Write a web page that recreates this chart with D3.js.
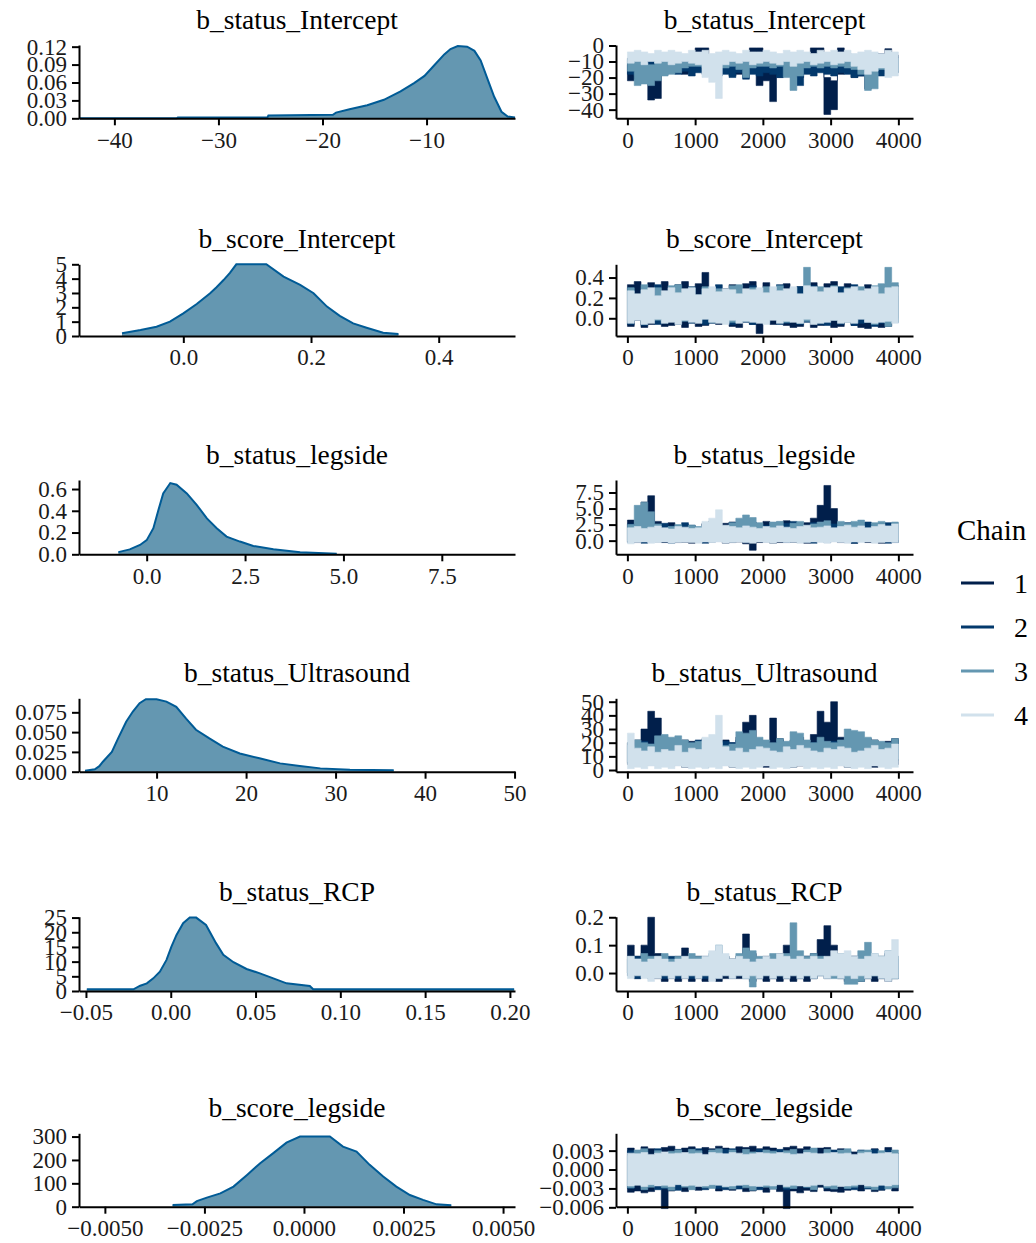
<!DOCTYPE html>
<html>
<head>
<meta charset="utf-8">
<script src="https://cdn.jsdelivr.net/npm/d3@7"></script>
<style>
  html, body { margin: 0; padding: 0; background: #ffffff; }
  svg text { font-family: "Liberation Serif", "Times New Roman", serif; }
</style>
</head>
<body>
<svg id="chart" width="1036" height="1243"></svg>
<script>
// ---------------- posterior densities ----------------
const statusInterceptDensX = [-43.4, -34.0, -33.9, -25.3, -25.2, -19.0, -18.7, -17.4, -15.7, -14.1, -12.5, -11.2, -10.2, -9.3, -8.3, -7.7, -7.0, -6.1, -5.4, -4.8, -4.1, -3.5, -2.8, -2.2, -1.5];
const statusInterceptDensY = [0, 0, 0.0015, 0.0015, 0.0045, 0.0060, 0.0095, 0.015, 0.022, 0.031, 0.045, 0.059, 0.071, 0.088, 0.107, 0.116, 0.121, 0.120, 0.113, 0.097, 0.064, 0.036, 0.011, 0.003, 0.0015];

const scoreInterceptDensX = [-0.096, -0.067, -0.042, -0.021, 0.0, 0.021, 0.042, 0.052, 0.063, 0.073, 0.083, 0.13, 0.157, 0.183, 0.204, 0.225, 0.245, 0.266, 0.287, 0.313, 0.337];
const scoreInterceptDensY = [0.19, 0.42, 0.65, 1.0, 1.58, 2.23, 2.98, 3.4, 3.9, 4.4, 5.0, 5.0, 4.14, 3.56, 2.98, 2.05, 1.4, 0.88, 0.58, 0.23, 0.14];

const statusLegsideDensX = [-0.72, -0.43, -0.17, 0.0, 0.17, 0.3, 0.42, 0.6, 0.76, 1.02, 1.27, 1.53, 1.78, 2.03, 2.37, 2.71, 3.22, 3.9, 4.83];
const statusLegsideDensY = [0.02, 0.045, 0.086, 0.13, 0.24, 0.41, 0.56, 0.655, 0.64, 0.56, 0.455, 0.33, 0.24, 0.163, 0.117, 0.077, 0.046, 0.018, 0.006];

const statusUltrasoundDensX = [2.0, 3.1, 3.6, 4.0, 5.0, 5.7, 6.6, 7.35, 8.1, 8.8, 10.0, 11.1, 12.2, 13.3, 14.4, 15.9, 17.4, 19.3, 21.5, 23.8, 26.0, 28.3, 31.6, 36.5];
const statusUltrasoundDensY = [0.0013, 0.003, 0.007, 0.0126, 0.025, 0.042, 0.063, 0.076, 0.0865, 0.0915, 0.0915, 0.0885, 0.082, 0.067, 0.053, 0.042, 0.0316, 0.023, 0.0169, 0.0105, 0.0072, 0.0042, 0.0025, 0.0017];

const statusRCPDensX = [-0.0495, -0.022, -0.018, -0.0141, -0.0103, -0.0064, -0.0025, 0.0004, 0.0034, 0.0073, 0.0112, 0.015, 0.0208, 0.0267, 0.031, 0.037, 0.0447, 0.0526, 0.0605, 0.0683, 0.082, 0.084, 0.2025];
const statusRCPDensY = [0.57, 0.57, 1.8, 2.6, 4.3, 6.6, 10.6, 15.1, 19.1, 23.1, 25.0, 25.0, 22.5, 16.3, 12.3, 9.8, 7.5, 6.0, 4.3, 2.6, 1.7, 0.57, 0.57];

const scoreLegsideDensX = [-0.0033, -0.0028, -0.00269, -0.00244, -0.0021, -0.00177, -0.00143, -0.0011, -0.00077, -0.00044, -0.0001, 0.00065, 0.00098, 0.00132, 0.00165, 0.00199, 0.00232, 0.00266, 0.00299, 0.00333, 0.0037];
const scoreLegsideDensY = [7, 10, 24, 39, 57, 86, 136, 186, 229, 274, 300, 300, 257, 236, 179, 129, 86, 50, 29, 10, 6];

// ---------------- MCMC traces: lowest / highest draw of each chain per 100 iterations ----------------
const statusInterceptChain1Lo = [-22,-21,-20,-34,-33,-18,-17,-16,-18,-17, -15,-14,-19,-18,-17,-19,-18,-20,-15,-25, -22,-35,-20,-19,-18,-20,-17,-15,-16,-43, -40,-18,-16,-20,-19,-27,-16,-15,-17,-16];
const statusInterceptChain1Hi = [-12,-11,-10,-18,-17,-9,-10,-9,-10,-11, -1.5,-1.5,-10,-11,-10,-9,-11,-10,-1.5,-1.5, -8,-12,-9,-10,-8,-9,-10,-1.5,-1.5,-20, -22,-1.5,-5,-8,-9,-8,-6,-5,-2,-6];
const statusInterceptChain2Lo = [-18,-19,-17,-20,-19,-18,-17,-18,-16,-19, -17,-18,-16,-19,-18,-20,-17,-21,-18,-19, -17,-18,-20,-19,-17,-25,-18,-19,-17,-18, -19,-17,-18,-20,-19,-18,-17,-19,-18,-17];
const statusInterceptChain2Hi = [-8,-7,-9,-8,-10,-7,-8,-9,-7,-8, -9,-7,-8,-10,-8,-7,-9,-8,-7,-9, -8,-10,-7,-8,-9,-8,-7,-9,-8,-10, -7,-8,-9,-7,-8,-9,-7,-8,-10,-7];
const statusInterceptChain3Lo = [-16,-25,-24,-25,-22,-19,-18,-17,-14,-13, -13,-14,-12,-13,-14,-13,-15,-20,-14,-13, -13,-14,-13,-20,-28,-19,-14,-13,-14,-13, -14,-13,-14,-15,-18,-28,-27,-15,-14,-16];
const statusInterceptChain3Hi = [-9,-10,-11,-12,-10,-9,-8,-9,-10,-8, -9,-10,-8,-9,-10,-8,-9,-10,-9,-8, -10,-9,-8,-9,-10,-9,-8,-10,-9,-8, -9,-10,-8,-9,-10,-9,-8,-9,-10,-8];
const statusInterceptChain4Lo = [-11,-10,-12,-10,-11,-10,-12,-11,-10,-11, -12,-20,-23,-33,-12,-10,-11,-10,-12,-11, -10,-11,-12,-10,-13,-11,-10,-12,-11,-10, -12,-11,-10,-13,-15,-18,-16,-14,-20,-19];
const statusInterceptChain4Hi = [-4,-3,-4,-5,-3,-4,-3,-4,-5,-3, -4,-3,-5,-4,-3,-4,-5,-3,-4,-4, -3,-4,-5,-3,-4,-3,-4,-5,-3,-4, -3,-4,-3,-5,-4,-3,-4,-5,-3,-4];

const scoreInterceptChain1Lo = [-0.08,-0.02,-0.09,-0.06,-0.01,-0.08,-0.07,0.0,-0.09,-0.02, -0.08,-0.07,0.0,-0.06,-0.01,-0.08,-0.09,0.0,-0.06,-0.15, -0.01,-0.06,-0.02,-0.07,-0.09,-0.08,0.0,-0.09,-0.07,-0.02, -0.09,-0.08,0.0,-0.07,-0.09,-0.1,-0.02,-0.09,-0.08,0.0];
const scoreInterceptChain1Hi = [0.33,0.36,0.26,0.35,0.27,0.36,0.25,0.33,0.36,0.27, 0.34,0.45,0.26,0.25,0.29,0.33,0.25,0.34,0.36,0.26, 0.35,0.25,0.27,0.34,0.26,0.31,0.25,0.35,0.26,0.34, 0.36,0.26,0.34,0.25,0.3,0.33,0.26,0.31,0.25,0.32];
const scoreInterceptChain2Lo = [-0.06,0.0,-0.07,0.01,-0.06,-0.05,0.02,-0.06,0.0,-0.05, 0.01,-0.06,-0.05,0.0,-0.04,-0.06,0.01,-0.04,-0.06,0.0, -0.05,0.02,-0.06,-0.05,0.0,-0.06,-0.04,0.01,-0.06,-0.07, 0.0,-0.06,0.02,-0.07,-0.05,0.0,-0.08,-0.05,0.01,-0.04];
const scoreInterceptChain2Hi = [0.3,0.22,0.31,0.2,0.33,0.21,0.24,0.32,0.2,0.31, 0.22,0.3,0.21,0.33,0.23,0.2,0.31,0.22,0.32,0.21, 0.3,0.2,0.33,0.22,0.24,0.31,0.2,0.32,0.21,0.3, 0.22,0.31,0.2,0.33,0.21,0.23,0.3,0.2,0.32,0.22];
const scoreInterceptChain3Lo = [-0.03,0.02,-0.04,0.03,-0.02,-0.04,0.02,-0.02,-0.03,0.03, -0.02,0.02,-0.04,0.03,-0.03,-0.04,0.02,-0.03,0.03,-0.03, -0.04,0.02,-0.02,-0.04,0.03,-0.05,-0.03,0.02,-0.04,0.03, -0.02,0.02,-0.04,-0.03,0.03,-0.04,-0.06,0.02,-0.08,-0.04];
const scoreInterceptChain3Hi = [0.3,0.22,0.33,0.21,0.3,0.24,0.32,0.33,0.2,0.3, 0.23,0.31,0.2,0.29,0.22,0.32,0.33,0.21,0.3,0.22, 0.31,0.2,0.32,0.23,0.3,0.21,0.5,0.22,0.31,0.2, 0.32,0.21,0.3,0.24,0.31,0.2,0.32,0.34,0.5,0.35];
const scoreInterceptChain4Lo = [-0.05,-0.02,-0.06,-0.05,-0.01,-0.05,-0.04,-0.06,-0.02,-0.04, -0.05,-0.01,-0.04,-0.05,-0.06,-0.02,-0.05,-0.03,-0.04,-0.05, -0.06,-0.02,-0.05,-0.03,-0.04,-0.05,-0.01,-0.06,-0.05,-0.04, -0.02,-0.05,-0.04,-0.05,-0.01,-0.04,-0.05,-0.04,-0.03,-0.05];
const scoreInterceptChain4Hi = [0.27,0.24,0.28,0.3,0.22,0.27,0.3,0.25,0.29,0.3, 0.23,0.29,0.31,0.26,0.29,0.28,0.24,0.29,0.28,0.3, 0.25,0.31,0.27,0.29,0.31,0.24,0.32,0.31,0.26,0.3, 0.31,0.25,0.29,0.31,0.27,0.29,0.31,0.24,0.3,0.31];

const statusLegsideChain1Lo = [-0.2,-0.3,0.5,1.5,-0.2,-0.3,-0.1,-0.3,-0.2,-0.4, -0.1,-0.3,-0.2,-0.1,-0.4,-0.3,-0.2,-0.5,-1.5,-0.3, -0.2,-0.4,-0.3,-0.1,-0.2,-0.3,-0.4,-0.2,1.0,1.5, 1.0,-0.3,-0.2,-0.4,-0.1,-0.3,-0.2,-0.4,-0.3,-0.2];
const statusLegsideChain1Hi = [3.2,2.6,6.0,7.0,3.0,2.4,2.8,2.2,2.5,2.3, 2.0,2.6,3.0,2.4,2.7,2.9,2.3,3.2,2.8,2.6, 3.0,2.4,2.9,3.1,2.6,2.4,2.8,3.5,5.5,8.6, 5.0,2.6,2.4,2.2,2.8,2.3,2.5,2.4,2.2,2.6];
const statusLegsideChain2Lo = [-0.3,0.2,-0.4,-0.1,0.3,-0.2,-0.4,0.2,-0.2,-0.1, 0.3,-0.4,-0.2,0.2,-0.1,-0.2,0.3,-0.3,-0.2,0.2, -0.1,-0.2,0.3,-0.3,-0.2,0.2,-0.3,-0.4,0.3,-0.3, -0.1,0.2,-0.3,-0.4,0.3,-0.1,-0.3,0.2,-0.4,-0.3];
const statusLegsideChain2Hi = [2.6,1.6,2.4,2.9,1.7,2.7,2.3,1.6,2.8,2.4, 1.7,2.7,2.9,1.6,2.4,2.8,1.7,2.7,2.9,1.6, 2.4,2.8,1.7,2.7,3.0,1.6,2.4,2.8,1.7,2.7, 2.6,1.6,2.8,2.5,1.7,2.9,2.6,1.6,2.8,2.5];
const statusLegsideChain3Lo = [0.0,1.0,1.2,0.8,0.2,0.0,0.1,-0.1,0.2,0.0, 0.1,-0.1,0.3,0.0,0.2,0.1,0.3,0.4,0.2,0.0, 0.1,0.2,0.0,0.1,0.3,0.2,0.0,0.1,0.2,0.0, 0.1,0.2,0.3,0.0,0.1,0.2,0.0,0.1,0.2,0.1];
const statusLegsideChain3Hi = [2.5,5.5,6.0,4.5,2.6,1.8,2.2,2.5,1.7,2.4, 2.2,1.8,2.6,2.4,1.7,2.8,3.5,4.0,3.6,2.8, 1.8,2.9,3.0,1.7,2.7,3.0,1.8,2.6,2.9,3.1, 1.8,3.0,2.7,3.0,3.2,1.7,2.8,3.0,1.8,2.9];
const statusLegsideChain4Lo = [-0.5,-0.3,-0.2,-0.4,-0.3,-0.2,-0.4,-0.3,-0.2,-0.3, -0.4,-0.2,-0.3,-0.2,-0.4,-0.3,-0.2,-0.3,-0.4,-0.2, -0.3,-0.4,-0.2,-0.3,-0.2,-0.4,-0.3,-0.2,-0.3,-0.4, -0.2,-0.3,-0.4,-0.2,-0.3,-0.2,-0.4,-0.3,-0.2,-0.3];
const statusLegsideChain4Hi = [2.0,2.2,1.9,2.1,2.3,2.0,1.8,2.2,2.1,1.9, 2.0,3.0,3.5,4.8,2.4,2.2,2.0,2.3,2.1,1.9, 2.2,2.0,2.3,2.1,1.9,2.2,2.4,2.0,2.1,2.3, 2.0,2.2,2.4,2.1,2.3,2.0,2.2,2.5,2.3,2.6];

const statusUltrasoundChain1Lo = [4,3,8,12,10,4,3,5,2,3, 5,2,3,5,4,2,4,15,12,5, 2,6,3,4,2,3,4,6,15,12, 18,4,2,5,4,3,2,5,3,4];
const statusUltrasoundChain1Hi = [20,22,30,43,38,24,20,18,22,21, 19,23,20,18,22,20,24,35,40,22, 21,38,23,20,22,24,21,26,43,35, 50,24,22,20,21,23,22,20,21,23];
const statusUltrasoundChain2Lo = [5,6,4,5,7,4,6,5,4,6, 5,7,4,6,5,4,6,5,7,4, 6,5,4,6,5,7,4,6,5,4, 6,5,7,4,6,5,4,6,5,7];
const statusUltrasoundChain2Hi = [20,18,21,19,22,20,18,21,19,20, 22,18,20,19,21,20,22,19,18,21, 20,19,22,20,18,21,19,20,22,18, 21,20,19,22,20,18,21,19,20,22];
const statusUltrasoundChain3Lo = [6,8,7,5,9,8,6,7,8,6, 7,9,6,8,7,6,8,9,7,6, 8,7,6,9,8,7,6,8,7,9, 6,7,8,6,9,7,8,6,7,8];
const statusUltrasoundChain3Hi = [18,22,20,19,25,26,24,25,22,20, 21,19,17,20,18,19,28,27,29,24, 22,20,23,21,28,27,22,20,24,21, 20,22,30,29,28,24,22,21,20,23];
const statusUltrasoundChain4Lo = [1,2,1,3,1,2,1,3,2,1, 2,1,2,1,3,2,1,2,1,2, 3,1,2,1,2,3,1,2,1,2, 1,3,2,1,2,1,3,2,1,2];
const statusUltrasoundChain4Hi = [27,16,14,17,13,15,14,18,13,16, 15,24,26,40,17,14,16,13,15,17, 16,14,13,17,15,18,16,14,13,16, 15,17,16,13,14,16,18,15,16,19];

const statusRCPChain1Lo = [0.0,-0.02,0.02,0.05,-0.02,-0.03,-0.02,-0.03,-0.02,-0.03, -0.02,-0.03,-0.02,-0.03,-0.02,-0.01,-0.02,0.0,-0.03,-0.02, -0.03,-0.02,-0.03,-0.02,-0.03,-0.02,-0.03,-0.02,0.03,0.05, 0.02,-0.02,-0.03,-0.02,-0.03,-0.02,-0.03,-0.02,-0.03,-0.02];
const statusRCPChain1Hi = [0.1,0.06,0.1,0.2,0.07,0.06,0.05,0.06,0.09,0.05, 0.06,0.05,0.06,0.05,0.06,0.05,0.06,0.14,0.07,0.05, 0.06,0.05,0.07,0.1,0.06,0.05,0.06,0.07,0.12,0.17, 0.1,0.06,0.05,0.06,0.05,0.06,0.05,0.06,0.07,0.06];
const statusRCPChain2Lo = [-0.01,-0.02,-0.01,-0.02,-0.01,-0.02,-0.01,-0.02,-0.01,-0.02, -0.01,-0.02,-0.01,-0.02,-0.01,-0.02,-0.01,-0.02,-0.01,-0.02, -0.01,-0.02,-0.01,-0.02,-0.01,-0.02,-0.01,-0.02,-0.01,-0.02, -0.01,-0.02,-0.01,-0.02,-0.01,-0.02,-0.01,-0.02,-0.01,-0.02];
const statusRCPChain2Hi = [0.05,0.06,0.05,0.06,0.05,0.04,0.06,0.05,0.06,0.05, 0.04,0.06,0.05,0.06,0.05,0.04,0.06,0.05,0.06,0.05, 0.04,0.06,0.05,0.06,0.05,0.04,0.06,0.05,0.06,0.05, 0.04,0.06,0.05,0.06,0.05,0.04,0.06,0.05,0.06,0.05];
const statusRCPChain3Lo = [0.0,0.01,0.0,0.02,0.01,0.0,0.01,0.02,0.0,0.01, 0.0,0.01,-0.01,0.0,0.01,0.0,0.01,-0.02,-0.05,0.0, 0.01,0.0,-0.01,0.0,0.01,0.0,-0.01,0.0,0.01,0.0, -0.02,-0.01,-0.04,-0.04,-0.03,0.0,-0.01,0.0,0.01,-0.02];
const statusRCPChain3Hi = [0.06,0.05,0.07,0.06,0.06,0.07,0.05,0.06,0.05,0.07, 0.06,0.05,0.07,0.1,0.06,0.05,0.07,0.09,0.08,0.06, 0.05,0.07,0.06,0.07,0.18,0.08,0.06,0.07,0.06,0.05, 0.06,0.07,0.06,0.05,0.08,0.11,0.07,0.06,0.08,0.06];
const statusRCPChain4Lo = [-0.02,-0.01,-0.02,-0.03,-0.02,-0.01,-0.02,-0.01,-0.02,-0.01, -0.02,-0.01,-0.03,-0.02,-0.01,-0.02,-0.01,-0.02,-0.01,-0.02, -0.01,-0.02,-0.01,-0.02,-0.01,-0.02,-0.01,-0.02,-0.01,-0.02, -0.01,-0.02,-0.01,-0.02,-0.01,-0.02,-0.01,-0.02,-0.03,-0.02];
const statusRCPChain4Hi = [0.06,0.05,0.04,0.05,0.06,0.05,0.04,0.05,0.06,0.05, 0.05,0.06,0.08,0.1,0.07,0.05,0.06,0.05,0.04,0.05, 0.06,0.05,0.07,0.06,0.05,0.06,0.05,0.06,0.05,0.06, 0.08,0.07,0.08,0.06,0.05,0.06,0.07,0.06,0.08,0.12];

const scoreLegsideChain1Lo = [-0.0036,-0.0034,-0.0037,-0.0035,-0.0028,-0.0062,-0.0034,-0.0027,-0.0035,-0.0028, -0.0033,-0.0027,-0.0028,-0.0034,-0.0027,-0.0033,-0.0028,-0.0035,-0.0034,-0.0027, -0.0036,-0.0028,-0.0035,-0.0062,-0.0034,-0.0037,-0.0033,-0.0035,-0.0028,-0.0034, -0.0035,-0.0036,-0.0033,-0.0028,-0.0034,-0.0027,-0.0035,-0.0033,-0.0028,-0.0034];
const scoreLegsideChain1Hi = [0.0034,0.0027,0.0036,0.0033,0.0026,0.0035,0.0037,0.0027,0.0034,0.0036, 0.0026,0.0035,0.0033,0.0037,0.0034,0.0028,0.0036,0.0035,0.0037,0.0033, 0.0036,0.0034,0.0027,0.0035,0.0037,0.0033,0.0036,0.0027,0.0034,0.0035, 0.0026,0.0033,0.0027,0.0028,0.0026,0.0027,0.0033,0.0028,0.0035,0.0026];
const scoreLegsideChain2Lo = [-0.003,-0.0021,-0.0031,-0.0022,-0.0032,-0.0031,-0.0021,-0.0033,-0.0022,-0.0031, -0.0021,-0.0032,-0.0022,-0.003,-0.0032,-0.0021,-0.0031,-0.0022,-0.0029,-0.0032, -0.0021,-0.0031,-0.0022,-0.0032,-0.003,-0.0021,-0.0029,-0.0031,-0.0022,-0.003, -0.0029,-0.0022,-0.0031,-0.0032,-0.0021,-0.0031,-0.0022,-0.0032,-0.0029,-0.0021];
const scoreLegsideChain2Hi = [0.003,0.0022,0.0031,0.0021,0.0033,0.0022,0.0028,0.0032,0.0021,0.0031, 0.0033,0.0022,0.0031,0.0021,0.0032,0.0033,0.0022,0.003,0.0021,0.0032, 0.0022,0.003,0.0032,0.0021,0.0029,0.0022,0.0031,0.0033,0.0021,0.0029, 0.0031,0.0022,0.003,0.0021,0.0031,0.0022,0.0032,0.0021,0.0031,0.0022];
const scoreLegsideChain3Lo = [-0.0029,-0.0022,-0.0032,-0.0028,-0.0021,-0.0029,-0.0033,-0.0022,-0.0028,-0.0032, -0.0022,-0.0029,-0.003,-0.0021,-0.0028,-0.0031,-0.0022,-0.0029,-0.0033,-0.0021, -0.0028,-0.0031,-0.0022,-0.0029,-0.003,-0.0021,-0.0028,-0.0032,-0.0022,-0.0029, -0.0031,-0.0022,-0.003,-0.0028,-0.0021,-0.0029,-0.0032,-0.0022,-0.0031,-0.0029];
const scoreLegsideChain3Hi = [0.0022,0.0031,0.0033,0.0021,0.003,0.0022,0.0029,0.0031,0.0021,0.0032, 0.003,0.0022,0.0031,0.0033,0.0021,0.0031,0.0022,0.0032,0.0028,0.0022, 0.0031,0.0029,0.0021,0.003,0.0032,0.0022,0.0031,0.0034,0.0021,0.0032, 0.0022,0.0031,0.0033,0.0021,0.003,0.0031,0.0022,0.003,0.0021,0.0031];
const scoreLegsideChain4Lo = [-0.0026,-0.0025,-0.0027,-0.0024,-0.0026,-0.0025,-0.0027,-0.0024,-0.0026,-0.0025, -0.0027,-0.0026,-0.0024,-0.0025,-0.0027,-0.0026,-0.0025,-0.0024,-0.0026,-0.0027, -0.0025,-0.0026,-0.0024,-0.0027,-0.0025,-0.0026,-0.0027,-0.0025,-0.0024,-0.0026, -0.0025,-0.0027,-0.0026,-0.0025,-0.0024,-0.0026,-0.0027,-0.0025,-0.0026,-0.0024];
const scoreLegsideChain4Hi = [0.0026,0.0025,0.0027,0.0024,0.0026,0.0028,0.0025,0.0026,0.0027,0.0025, 0.0026,0.0024,0.0027,0.0026,0.0025,0.0027,0.0026,0.0024,0.0025,0.0027, 0.0026,0.0025,0.0027,0.0026,0.0024,0.0025,0.0027,0.0026,0.0025,0.0026, 0.0027,0.0025,0.0026,0.0024,0.0026,0.0027,0.0025,0.0026,0.0027,0.0025];

// ---------------- names, ticks, legend ----------------
const parameterNames = ["b_status_Intercept", "b_score_Intercept", "b_status_legside", "b_status_Ultrasound", "b_status_RCP", "b_score_legside"];
const densXTicks = [[-40, -30, -20, -10], [0.0, 0.2, 0.4], [0.0, 2.5, 5.0, 7.5], [10, 20, 30, 40, 50], [-0.05, 0.00, 0.05, 0.10, 0.15, 0.20], [-0.005, -0.0025, 0, 0.0025, 0.005]];
const densYTicks = [[0, 0.03, 0.06, 0.09, 0.12], [0, 1, 2, 3, 4, 5], [0, 0.2, 0.4, 0.6], [0, 0.025, 0.05, 0.075], [0, 5, 10, 15, 20, 25], [0, 100, 200, 300]];
const traceYTicks = [[0, -10, -20, -30, -40], [0.0, 0.2, 0.4], [0.0, 2.5, 5.0, 7.5], [0, 10, 20, 30, 40, 50], [0.0, 0.1, 0.2], [0.003, 0, -0.003, -0.006]];
const iterationTicks = [0, 1000, 2000, 3000, 4000];
const chainLabels = ["1", "2", "3", "4"];

// ---------------- layout & styling ----------------
const densXFormat = ["d", ".1f", ".1f", "d", ".2f", ".4f"];
const densYFormat = [".2f", "d", ".1f", ".3f", "d", "d"];
const traceYFormat = ["d", ".1f", ".1f", "d", ".1f", ".3f"];

const densFill = "#6497b1";
const densLine = "#005b96";
const chainColors = ["#011f4b", "#03396c", "#6497b1", "#d1e1ec"];

const rowBox = [[45, 118.3], [264.3, 336], [480, 554.3], [698.3, 771.7], [916.7, 991], [1133.3, 1206.7]];
const leftX = [79, 515], rightX = [616, 913];
const densXDomain = [[-43.4, -1.5], [-0.1634, 0.5195], [-1.72, 9.36], [1.33, 50.05], [-0.0541, 0.203], [-0.00565, 0.0053]];
const densYMax = [0.1228, 5.0, 0.683, 0.0927, 25.3, 314];
const traceYDomain = [[-45.4, 0.3], [-0.174, 0.53], [-2.13, 9.45], [-1.24, 52.5], [-0.0644, 0.202], [-0.0059, 0.00575]];
const iterationDomain = [-168, 4216];
const BIN = 100, LAST_ITER = 4000;

const densities = [
  [statusInterceptDensX, statusInterceptDensY],
  [scoreInterceptDensX, scoreInterceptDensY],
  [statusLegsideDensX, statusLegsideDensY],
  [statusUltrasoundDensX, statusUltrasoundDensY],
  [statusRCPDensX, statusRCPDensY],
  [scoreLegsideDensX, scoreLegsideDensY]
];
const traces = [
  [[statusInterceptChain1Lo, statusInterceptChain1Hi], [statusInterceptChain2Lo, statusInterceptChain2Hi], [statusInterceptChain3Lo, statusInterceptChain3Hi], [statusInterceptChain4Lo, statusInterceptChain4Hi]],
  [[scoreInterceptChain1Lo, scoreInterceptChain1Hi], [scoreInterceptChain2Lo, scoreInterceptChain2Hi], [scoreInterceptChain3Lo, scoreInterceptChain3Hi], [scoreInterceptChain4Lo, scoreInterceptChain4Hi]],
  [[statusLegsideChain1Lo, statusLegsideChain1Hi], [statusLegsideChain2Lo, statusLegsideChain2Hi], [statusLegsideChain3Lo, statusLegsideChain3Hi], [statusLegsideChain4Lo, statusLegsideChain4Hi]],
  [[statusUltrasoundChain1Lo, statusUltrasoundChain1Hi], [statusUltrasoundChain2Lo, statusUltrasoundChain2Hi], [statusUltrasoundChain3Lo, statusUltrasoundChain3Hi], [statusUltrasoundChain4Lo, statusUltrasoundChain4Hi]],
  [[statusRCPChain1Lo, statusRCPChain1Hi], [statusRCPChain2Lo, statusRCPChain2Hi], [statusRCPChain3Lo, statusRCPChain3Hi], [statusRCPChain4Lo, statusRCPChain4Hi]],
  [[scoreLegsideChain1Lo, scoreLegsideChain1Hi], [scoreLegsideChain2Lo, scoreLegsideChain2Hi], [scoreLegsideChain3Lo, scoreLegsideChain3Hi], [scoreLegsideChain4Lo, scoreLegsideChain4Hi]]
];

const svg = d3.select("#chart");
const TICK_FONT = 23, TITLE_FONT = 27.5;
const textColor = "#1a1a1a";

function styleAxis(g) {
  g.select(".domain").attr("stroke", "#000").attr("stroke-width", 2);
  g.selectAll(".tick line").attr("stroke", "#000").attr("stroke-width", 2);
  g.selectAll(".tick text")
    .attr("fill", textColor)
    .attr("font-size", TICK_FONT)
    .attr("font-family", "Liberation Serif, Times New Roman, serif");
}

function drawAxes(x, y, xTicks, xFmt, yTicks, yFmt, box) {
  const gx = svg.append("g").attr("transform", `translate(0,${box[1]})`)
    .call(d3.axisBottom(x).tickValues(xTicks).tickFormat(d3.format(xFmt)).tickSizeInner(7).tickSizeOuter(0).tickPadding(6));
  styleAxis(gx);
  const gy = svg.append("g").attr("transform", `translate(${x.range()[0]},0)`)
    .call(d3.axisLeft(y).tickValues(yTicks).tickFormat(d3.format(yFmt)).tickSizeInner(7).tickSizeOuter(0).tickPadding(5));
  styleAxis(gy);
}

function drawTitle(text, xr, box) {
  svg.append("text")
    .attr("x", (xr[0] + xr[1]) / 2)
    .attr("y", box[0] - 16)
    .attr("text-anchor", "middle")
    .attr("font-size", TITLE_FONT)
    .attr("fill", "#000")
    .text(text);
}

parameterNames.forEach((name, r) => {
  const box = rowBox[r];

  // density panel
  const x = d3.scaleLinear().domain(densXDomain[r]).range(leftX);
  const y = d3.scaleLinear().domain([0, densYMax[r]]).range([box[1], box[0]]);
  const [dx, dy] = densities[r];
  const pts = dx.map((v, i) => [v, dy[i]]);
  svg.append("path").datum(pts)
    .attr("fill", densFill)
    .attr("stroke", "none")
    .attr("d", d3.area().x(d => x(d[0])).y0(y(0)).y1(d => y(d[1])));
  svg.append("path").datum(pts)
    .attr("fill", "none")
    .attr("stroke", densLine)
    .attr("stroke-width", 2)
    .attr("d", d3.line().x(d => x(d[0])).y(d => y(d[1])));
  drawAxes(x, y, densXTicks[r], densXFormat[r], densYTicks[r], densYFormat[r], box);
  drawTitle(name, leftX, box);

  // trace panel: each chain's spread per 100-iteration block, chains layered 1 -> 4
  const tx = d3.scaleLinear().domain(iterationDomain).range(rightX);
  const ty = d3.scaleLinear().domain(traceYDomain[r]).range([box[1], box[0]]);
  traces[r].forEach(([lo, hi], c) => {
    const pts = lo.map((v, k) => ({ it: 1 + k * BIN, lo: v, hi: hi[k] }));
    pts.push({ it: LAST_ITER, lo: lo[lo.length - 1], hi: hi[hi.length - 1] });
    svg.append("path").datum(pts)
      .attr("fill", chainColors[c])
      .attr("stroke", chainColors[c])
      .attr("stroke-width", 0.6)
      .attr("d", d3.area().curve(d3.curveStepAfter)
        .x(d => tx(d.it)).y0(d => ty(d.lo)).y1(d => ty(d.hi)));
  });
  drawAxes(tx, ty, iterationTicks, "d", traceYTicks[r], traceYFormat[r], box);
  drawTitle(name, rightX, box);
});

// legend
const legend = svg.append("g");
legend.append("text")
  .attr("x", 957).attr("y", 540)
  .attr("font-size", 29).attr("fill", "#000")
  .text("Chain");
const legendY = d3.scalePoint().domain(chainLabels).range([583, 715]);
chainLabels.forEach((lab, i) => {
  legend.append("line")
    .attr("x1", 961).attr("x2", 994)
    .attr("y1", legendY(lab)).attr("y2", legendY(lab))
    .attr("stroke", chainColors[i]).attr("stroke-width", 3);
  legend.append("text")
    .attr("x", 1014).attr("y", legendY(lab) + 10)
    .attr("font-size", 28).attr("fill", "#000")
    .text(lab);
});
</script>
</body>
</html>
